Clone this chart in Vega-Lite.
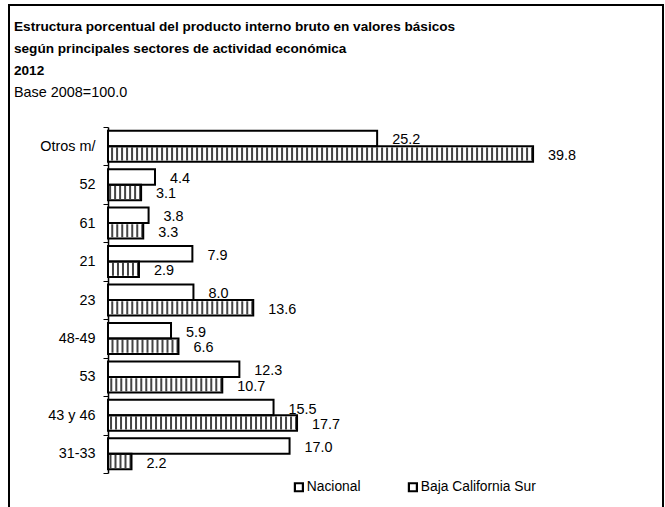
{
  "$schema": "https://vega.github.io/schema/vega-lite/v6.json",
  "width": 654,
  "height": 510,
  "autosize": {"type": "none"},
  "padding": {"left": 9, "top": 5, "right": 2, "bottom": 0},
  "background": "white",
  "config": {
    "font": "Liberation Sans",
    "view": {"stroke": "black", "strokeWidth": 2}
  },
  "title": {
    "text": ["Estructura porcentual del producto interno bruto en valores básicos", "según principales sectores de actividad económica", "2012"],
    "subtitle": "Base 2008=100.0",
    "anchor": "start",
    "frame": "group",
    "font": "Liberation Sans",
    "fontSize": 13.6,
    "fontWeight": "bold",
    "color": "black",
    "lineHeight": 22,
    "subtitleFont": "Liberation Sans",
    "subtitleFontSize": 14.4,
    "subtitleColor": "black",
    "subtitlePadding": 8,
    "offset": 0,
    "dx": 5,
    "dy": 102
  },
  "data": {
    "values": [
      {"sector": "Otros m/", "series": "Nacional", "value": 25.2},
      {"sector": "Otros m/", "series": "Baja California Sur", "value": 39.8},
      {"sector": "52", "series": "Nacional", "value": 4.4},
      {"sector": "52", "series": "Baja California Sur", "value": 3.1},
      {"sector": "61", "series": "Nacional", "value": 3.8},
      {"sector": "61", "series": "Baja California Sur", "value": 3.3},
      {"sector": "21", "series": "Nacional", "value": 7.9},
      {"sector": "21", "series": "Baja California Sur", "value": 2.9},
      {"sector": "23", "series": "Nacional", "value": 8.0},
      {"sector": "23", "series": "Baja California Sur", "value": 13.6},
      {"sector": "48-49", "series": "Nacional", "value": 5.9},
      {"sector": "48-49", "series": "Baja California Sur", "value": 6.6},
      {"sector": "53", "series": "Nacional", "value": 12.3},
      {"sector": "53", "series": "Baja California Sur", "value": 10.7},
      {"sector": "43 y 46", "series": "Nacional", "value": 15.5},
      {"sector": "43 y 46", "series": "Baja California Sur", "value": 17.7},
      {"sector": "31-33", "series": "Nacional", "value": 17.0},
      {"sector": "31-33", "series": "Baja California Sur", "value": 2.2}
    ]
  },
  "encoding": {
    "y": {
      "field": "sector",
      "type": "nominal",
      "sort": ["Otros m/", "52", "61", "21", "23", "48-49", "53", "43 y 46", "31-33"],
      "scale": {"range": [122, 468], "paddingInner": 0, "paddingOuter": 0},
      "axis": {
        "title": null,
        "offset": -99,
        "tickBand": "extent",
        "domainColor": "black",
        "domainWidth": 1.5,
        "tickColor": "black",
        "tickWidth": 1,
        "tickSize": 5,
        "labelPadding": 8,
        "labelFontSize": 14.4,
        "labelColor": "black",
        "labelFont": "Liberation Sans",
        "grid": false
      }
    },
    "yOffset": {
      "field": "series",
      "type": "nominal",
      "sort": ["Nacional", "Baja California Sur"],
      "scale": {"paddingInner": 0, "paddingOuter": 0.24}
    },
    "x": {
      "field": "value",
      "type": "quantitative",
      "stack": null,
      "scale": {"domain": [-9.27, 51.966], "nice": false, "zero": false},
      "axis": null
    }
  },
  "layer": [
    {
      "mark": {"type": "bar", "strokeWidth": 0},
      "encoding": {
        "x2": {"datum": 0},
        "fill": {
          "field": "series",
          "type": "nominal",
          "sort": ["Nacional", "Baja California Sur"],
          "scale": {"range": ["white", "white"]},
          "legend": {
            "title": null,
            "orient": "none",
            "legendX": 283,
            "legendY": 475,
            "direction": "horizontal",
            "symbolType": "square",
            "symbolSize": 64,
            "symbolStrokeColor": "black",
            "symbolStrokeWidth": 2.2,
            "symbolFillColor": "white",
            "labelFontSize": 13.8,
            "labelColor": "black",
            "labelFont": "Liberation Sans",
            "columnPadding": 43,
            "labelOffset": 1,
            "padding": 0
          }
        }
      }
    },
    {
      "transform": [{"filter": "datum.series === 'Baja California Sur'"}],
      "mark": {"type": "rule", "strokeDash": [2, 3], "strokeWidth": 13, "color": "#444444"},
      "encoding": {"x2": {"datum": 0}}
    },
    {
      "mark": {"type": "bar", "fillOpacity": 0, "fill": "white", "stroke": "black", "strokeWidth": 2},
      "encoding": {"x2": {"datum": 0}}
    },
    {
      "mark": {"type": "text", "align": "left", "baseline": "middle", "dx": 15, "dy": 2, "fontSize": 14.4, "color": "black", "font": "Liberation Sans"},
      "encoding": {"text": {"field": "value", "type": "quantitative", "format": ".1f"}}
    }
  ]
}
